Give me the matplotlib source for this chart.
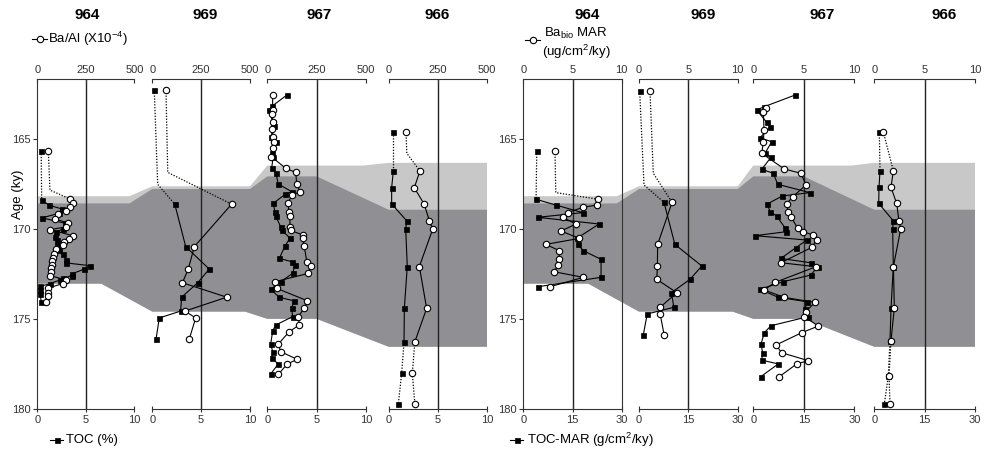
import matplotlib.pyplot as plt
import numpy as np

plt.rcParams['font.family'] = ['Liberation Sans', 'DejaVu Sans']
plt.rcParams['mathtext.fontset'] = 'custom'
plt.rcParams['mathtext.rm'] = 'Liberation Sans'

W, H = 984, 455
sites = ["964", "969", "967", "966"]
age_top, age_bottom = 161.7, 180.0
age_ticks = [165, 170, 175, 180]

# ---------------- left panel: TOC (%) squares, Ba/Al (x10^-4) circles
toc_964_age = [165.7, 168.4, 168.7, 168.9, 169.15, 169.4, 169.7, 170.0, 170.2, 170.45, 170.65,
               170.9, 171.2, 171.4, 171.75, 171.9, 172.05, 172.25, 172.5, 172.6, 172.75, 172.85,
               173.05, 173.2, 173.4, 173.6, 174.05]
toc_964 = [0.4, 0.45, 1.2, 2.5, 2.2, 0.5, 2.85, 2.7, 1.9, 1.8, 2.0,
           2.0, 2.2, 2.6, 3.0, 3.0, 5.4, 4.8, 3.6, 3.6, 2.6, 2.3,
           1.3, 0.3, 0.3, 0.3, 0.4]
ba_964_age = [165.7, 168.35, 168.6, 168.8, 169.0, 169.2, 169.45, 169.7, 169.9, 170.05, 170.4,
              170.55, 170.75, 170.9, 171.15, 171.4, 171.6, 171.8, 172.0, 172.2, 172.4, 172.6,
              172.85, 173.05, 173.3, 173.55, 173.75, 174.05]
ba_964 = [57, 168, 182, 170, 150, 108, 90, 160, 150, 68, 185,
          165, 140, 132, 95, 88, 82, 78, 76, 72, 70, 66,
          150, 130, 53, 55, 53, 43]

age_969 = [162.3, 168.64, 171.0, 172.24, 173.0, 173.8, 174.57, 174.95, 176.13]
toc_969 = [0.2, 2.3, 3.42, 5.83, 4.65, 3.0, 2.9, 0.72, 0.38]
ba_969 = [70, 406, 215, 184, 154, 381, 167, 222, 189]

toc_967_age = [162.57, 163.2, 163.42, 164.07, 164.29, 164.93, 165.18, 165.8, 166.0, 166.65,
               166.93, 167.52, 167.95, 168.1, 168.6, 169.06, 169.3, 169.9, 170.07, 170.53,
               170.96, 171.65, 171.83, 172.02, 172.48, 172.94, 173.36, 173.81, 174.0, 174.42,
               174.88, 175.34, 175.66, 176.4, 176.82, 177.19, 177.5, 178.06]
toc_967 = [2.03, 0.5, 0.17, 0.55, 0.68, 0.34, 0.85, 0.44, 0.6, 0.44,
           0.88, 1.11, 2.47, 1.79, 0.6, 0.78, 0.85, 1.36, 1.46, 2.3,
           1.79, 1.22, 2.47, 2.8, 2.57, 1.36, 0.34, 1.22, 2.7, 2.47,
           2.57, 0.85, 0.55, 0.34, 0.55, 0.44, 1.11, 0.34]
ba_967_age = [162.57, 163.42, 163.66, 164.07, 164.47, 164.93, 165.18, 165.5, 166.0, 166.65,
              166.88, 167.52, 167.95, 168.15, 168.56, 169.06, 169.3, 169.9, 170.1, 170.35,
              170.53, 170.96, 171.83, 172.05, 172.48, 172.94, 173.31, 174.0, 174.42, 174.88,
              175.34, 175.72, 176.4, 176.82, 177.25, 177.5, 178.08]
ba_967 = [27, 27, 25, 27, 25, 30, 35, 28, 20, 93,
          144, 149, 166, 127, 103, 111, 114, 115, 120, 179,
          179, 187, 200, 221, 208, 39, 48, 203, 186, 157,
          162, 110, 56, 68, 152, 101, 56]

age_966 = [164.62, 166.8, 167.73, 168.63, 169.56, 170.02, 172.1, 174.42, 176.27, 178.02, 179.72]
toc_966 = [0.47, 0.47, 0.3, 0.3, 1.83, 1.73, 1.89, 1.59, 1.56, 1.32, 0.98]
ba_966 = [88, 159, 130, 180, 207, 224, 156, 193, 133, 120, 133]

# dotted-line bends (age, value)
ba_964_bend = (167.86, 65)
toc_969_bend = (167.54, 0.55)
ba_969_bend = (166.88, 79)
ba_966_bend = (165.82, 92)

# ---------------- right panel: TOC-MAR squares, Ba_bio MAR circles
tocmar_964_age = [165.69, 168.37, 168.69, 169.11, 169.37, 169.74, 170.54, 170.87, 171.22,
                  171.7, 172.7, 173.22]
tocmar_964 = [4.1, 3.9, 9.9, 18.1, 4.4, 23.1, 16.3, 16.6, 18.3, 23.7, 23.7, 4.4]
bamar_964_age = [165.69, 168.37, 168.69, 168.82, 169.11, 169.37, 169.74, 170.13, 170.54,
                 170.87, 171.22, 171.7, 172.02, 172.39, 172.7, 173.22]
bamar_964 = [3.22, 7.62, 7.46, 6.04, 4.51, 4.0, 5.36, 3.83, 5.7,
             2.28, 3.66, 3.63, 3.5, 3.15, 6.1, 2.71]

age_969r = [162.35, 168.54, 170.87, 172.07, 172.81, 173.55, 174.36, 174.73, 175.9]
tocmar_969 = [0.2, 7.6, 10.9, 19.1, 15.5, 9.85, 10.6, 2.5, 1.3]
bamar_969 = [1.11, 3.35, 1.89, 1.86, 1.8, 3.83, 2.14, 2.14, 2.55]

tocmar_967_age = [162.59, 163.24, 163.42, 164.1, 164.35, 164.96, 165.18, 165.82, 166.04,
                  166.71, 166.93, 167.54, 168.0, 168.19, 168.63, 169.06, 169.3, 169.95,
                  170.17, 170.39, 170.63, 171.06, 171.65, 171.89, 172.11, 172.57, 172.94,
                  173.36, 173.81, 174.05, 174.47, 174.88, 175.38, 175.77, 176.4, 176.88,
                  177.29, 177.5, 178.21]
tocmar_967 = [12.4, 3.18, 1.0, 3.97, 4.96, 2.0, 5.47, 3.48, 5.26,
              2.5, 5.94, 7.25, 16.8, 8.6, 4.16, 4.96, 6.95, 9.4,
              9.7, 0.5, 15.9, 12.6, 8.2, 17.0, 19.1, 17.1, 8.9,
              2.0, 7.43, 15.9, 15.4, 16.3, 5.26, 3.27, 2.29, 2.79,
              2.49, 7.43, 2.2]
bamar_967_age = [163.3, 163.55, 164.53, 165.18, 165.82, 166.69, 166.93, 167.58, 168.23,
                 168.63, 169.1, 169.34, 169.98, 170.17, 170.35, 170.63, 171.04, 171.89,
                 172.11, 172.98, 173.4, 173.81, 174.09, 174.6, 174.88, 175.4, 175.77,
                 176.45, 176.88, 177.32, 177.5, 178.21]
bamar_967 = [1.3, 1.0, 1.06, 1.0, 0.83, 3.07, 4.72, 5.22, 3.9,
             3.3, 3.47, 3.73, 4.4, 4.95, 5.94, 6.28, 5.78, 2.74,
             6.2, 2.15, 1.06, 3.07, 6.1, 5.2, 5.05, 6.44, 4.79,
             2.25, 2.81, 5.45, 4.3, 2.57]

age_966r = [164.62, 166.79, 167.71, 168.6, 169.56, 170.02, 172.1, 174.38, 176.21, 178.17, 179.73]
tocmar_966 = [1.49, 1.7, 1.4, 1.31, 5.66, 5.48, 5.66, 4.99, 4.67, 4.17, 2.98]
bamar_966 = [0.89, 1.89, 1.66, 2.22, 2.45, 2.62, 1.9, 1.99, 1.66, 1.46, 1.56]

bamar_964_bend = (168.0, 3.3)
tocmar_969_bend = (167.58, 1.52)
bamar_969_bend = (166.93, 1.45)

# ---------------- shaded intervals (age per site, 964/969/967/966)
light_top = [168.2, 167.65, 166.5, 166.35]
dark_top = [168.6, 167.8, 167.1, 168.95]
dark_bottom = [173.05, 174.6, 175.0, 176.55]
# fraction of each column where the boundary starts to bend to the next site
light_top_end = [0.95, 1.0, 0.97, 1.0]
dark_top_end = [0.95, 1.0, 0.5, 1.0]
dark_bottom_end = [0.66, 0.95, 0.5, 1.0]

LIGHT = '#c8c8c8'
DARK = '#909094'
AX_TOP, AX_BOT = 79, 409

sq = dict(marker='s', ms=3.6, mfc='black', mec='black', mew=0.5)
ci = dict(marker='o', ms=4.6, mfc='white', mec='black', mew=0.8)
dot_ls = (0, (1, 1.3))

fig = plt.figure(figsize=(W / 100, H / 100), dpi=100)


def rect(left, width):
    return [left / W, (H - AX_BOT) / H, width / W, (AX_BOT - AX_TOP) / H]


def boundary(lefts, widths, ages, ends):
    xs, ys = [], []
    for L, w, a, f in zip(lefts, widths, ages, ends):
        xs += [L, L + f * w]
        ys += [a, a]
    return xs, ys


def draw_series(ax, ages, vals, style, head=0, tail=0, bend=None):
    ages, vals = list(ages), list(vals)
    n = len(ages)
    ax.plot(vals[head:n - tail], ages[head:n - tail], color='black', lw=0.8, zorder=2)
    if head:
        da, dv = ages[:head + 1], vals[:head + 1]
        if bend:
            da = da[:1] + [bend[0]] + da[1:]
            dv = dv[:1] + [bend[1]] + dv[1:]
        ax.plot(dv, da, color='black', lw=0.9, ls=dot_ls, zorder=2)
    if tail:
        ax.plot(vals[n - tail - 1:], ages[n - tail - 1:], color='black', lw=0.9, ls=dot_ls, zorder=2)
    ax.plot(vals, ages, ls='none', zorder=3, clip_on=False, **style)


def draw_panel(lefts, widths, toc_max, ba_max, toc_ticks, ba_ticks, data, box_first):
    # shading behind the columns
    bg = fig.add_axes(rect(lefts[0], lefts[-1] + widths[-1] - lefts[0]), zorder=0)
    bg.set_xlim(lefts[0], lefts[-1] + widths[-1])
    bg.set_ylim(age_bottom, age_top)
    bg.axis('off')
    lx, ly = boundary(lefts, widths, light_top, light_top_end)
    dx, dy = boundary(lefts, widths, dark_top, dark_top_end)
    bx, by = boundary(lefts, widths, dark_bottom, dark_bottom_end)
    bg.fill(lx + bx[::-1], ly + by[::-1], color=LIGHT, lw=0)
    bg.fill(dx + bx[::-1], dy + by[::-1], color=DARK, lw=0)

    for i, (L, w) in enumerate(zip(lefts, widths)):
        ax = fig.add_axes(rect(L, w), zorder=1)
        ax.patch.set_visible(False)
        ax.set_xlim(0, toc_max)
        ax.set_ylim(age_bottom, age_top)
        ax.axvline(toc_max / 2, color='#222222', lw=1.0, zorder=1)
        for s in ['top', 'right', 'left']:
            ax.spines[s].set_visible(False)
        ax.spines['bottom'].set_color('#333333')
        ax.set_xticks(toc_ticks)
        ax.tick_params(axis='x', direction='inout', length=5, width=0.8, labelsize=8,
                       pad=2, colors='#333333')
        if i == 0:
            ax.spines['left'].set_visible(True)
            ax.spines['left'].set_color('#333333')
            ax.set_yticks(age_ticks)
            ax.tick_params(axis='y', direction='out', length=3, labelsize=8, pad=1.5,
                           colors='#333333')
            if box_first:
                ax.spines['right'].set_visible(True)
                ax.spines['right'].set_color('#333333')
        else:
            ax.tick_params(axis='y', left=False, labelleft=False)

        axb = ax.twiny()
        axb.patch.set_visible(False)
        axb.set_xlim(0, ba_max)
        axb.set_ylim(age_bottom, age_top)
        for s in ['bottom', 'right', 'left']:
            axb.spines[s].set_visible(False)
        axb.spines['top'].set_color('#333333')
        axb.set_xticks(ba_ticks)
        axb.tick_params(axis='x', direction='in', length=3, width=0.8, labelsize=8,
                        pad=3, colors='#333333')

        sq_age, sq_val, ci_age, ci_val, head, tail, sq_bend, ci_bend = data[i]
        draw_series(ax, sq_age, sq_val, sq, head, tail, sq_bend)
        draw_series(axb, ci_age, ci_val, ci, head, tail, ci_bend)


left_data = [
    (toc_964_age, toc_964, ba_964_age, ba_964, 1, 0, None, ba_964_bend),
    (age_969, toc_969, age_969, ba_969, 1, 0, toc_969_bend, ba_969_bend),
    (toc_967_age, toc_967, ba_967_age, ba_967, 0, 0, None, None),
    (age_966, toc_966, age_966, ba_966, 1, 2, None, ba_966_bend),
]
right_data = [
    (tocmar_964_age, tocmar_964, bamar_964_age, bamar_964, 1, 0, None, bamar_964_bend),
    (age_969r, tocmar_969, age_969r, bamar_969, 1, 0, tocmar_969_bend, bamar_969_bend),
    (tocmar_967_age, tocmar_967, bamar_967_age, bamar_967, 0, 0, None, None),
    (age_966r, tocmar_966, age_966r, bamar_966, 1, 2, None, None),
]

draw_panel([37.3, 152.3, 267.3, 388.7], [97, 97.7, 98.7, 98.3],
           10, 500, [0, 5, 10], [0, 250, 500], left_data, False)
draw_panel([523.3, 639.0, 753.3, 874.3], [98.4, 98.7, 101, 100.7],
           30, 10, [0, 15, 30], [0, 5, 10], right_data, True)

# overlay for titles and legend keys (pixel coordinates)
ov = fig.add_axes([0, 0, 1, 1], zorder=5)
ov.set_xlim(0, W)
ov.set_ylim(H, 0)
ov.axis('off')

for x, name in zip([87, 205, 319, 437], sites):
    ov.text(x, 15, name, ha='center', va='center', fontsize=11, fontweight='bold')
for x, name in zip([587, 703, 822, 944], sites):
    ov.text(x, 15, name, ha='center', va='center', fontsize=11, fontweight='bold')

ov.text(18, 194, "Age (ky)", rotation=90, ha='center', va='center', fontsize=9.5)

ov.plot([32, 47], [39, 39], color='black', lw=0.8)
ov.plot([39.5], [39], ls='none', **ci)
ov.text(48, 39, "Ba/Al (X10$^{-4}$)", va='center', fontsize=9.5)

ov.plot([525, 540], [40, 40], color='black', lw=0.8)
ov.plot([532.5], [40], ls='none', **ci)
ov.text(544, 33, "Ba$_{\\mathrm{bio}}$ MAR", va='center', fontsize=9.5)
ov.text(542, 52, "(ug/cm$^{2}$/ky)", va='center', fontsize=9.5)

ov.plot([50, 63], [440, 440], color='black', lw=0.8)
ov.plot([56.5], [440], ls='none', **sq)
ov.text(66, 440, "TOC (%)", va='center', fontsize=9.5)

ov.plot([510, 523], [440, 440], color='black', lw=0.8)
ov.plot([516.5], [440], ls='none', **sq)
ov.text(527, 440, "TOC-MAR (g/cm$^{2}$/ky)", va='center', fontsize=9.5)

fig.savefig("out.png", dpi=100)
